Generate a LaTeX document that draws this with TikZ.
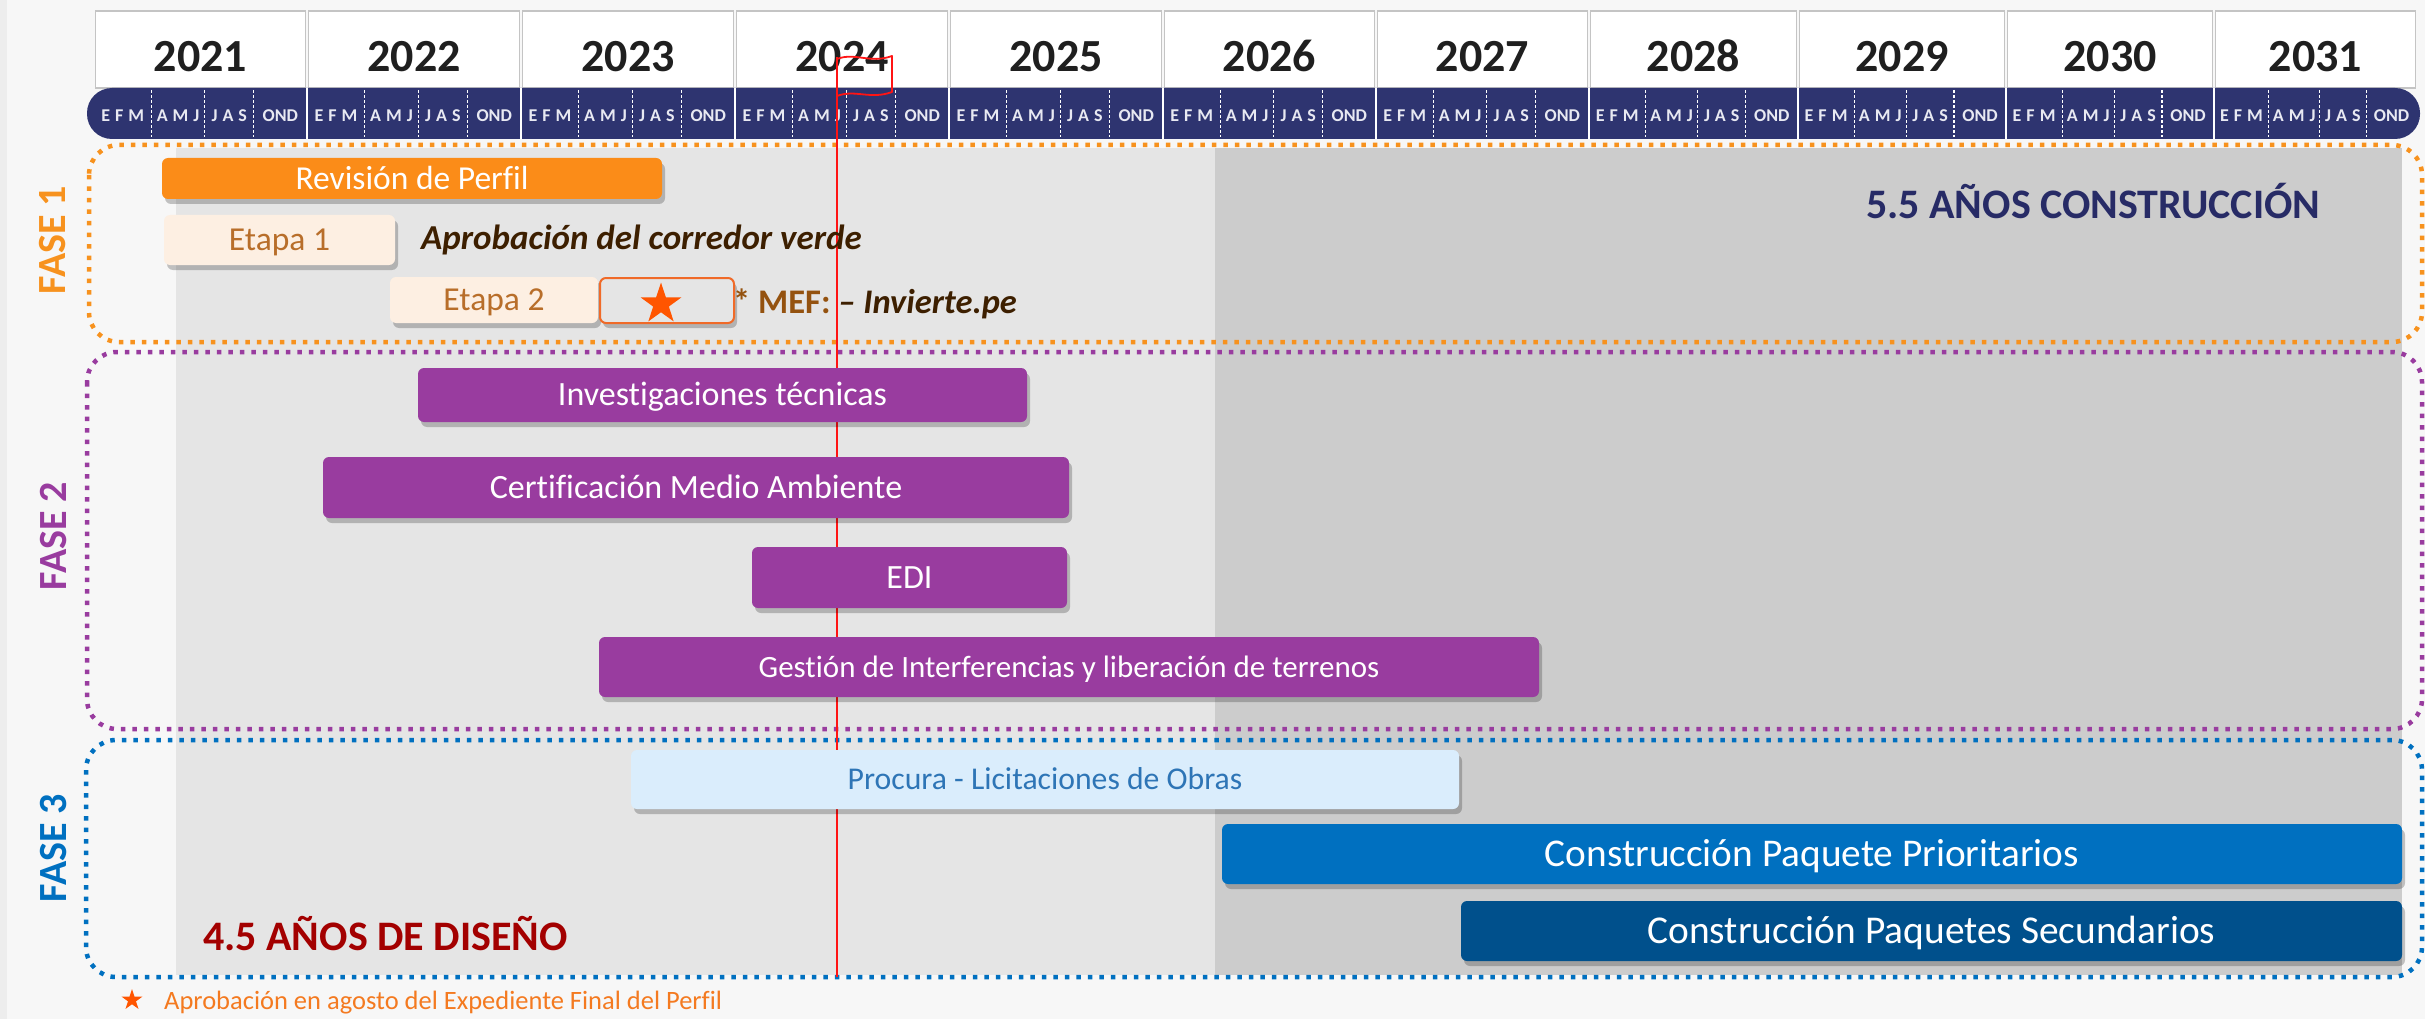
\documentclass[tikz,border=0pt]{standalone}
\usepackage{fontspec}
\setmainfont{Carlito}[Ligatures=NoCommon]
\usetikzlibrary{shapes.geometric,shadows}
\newcommand{\myfs}[1]{\fontsize{#1}{#1}\selectfont}
\definecolor{bg}{HTML}{F7F7F7}
\definecolor{stripc}{HTML}{EDEDED}
\definecolor{lgray}{HTML}{E5E5E5}
\definecolor{dgray}{HTML}{CCCCCC}
\definecolor{navy}{HTML}{2E3470}
\definecolor{boxgray}{HTML}{C4C4C4}
\definecolor{orng}{HTML}{F7921E}
\definecolor{barorng}{HTML}{FB8C18}
\definecolor{peach}{HTML}{FDEFE2}
\definecolor{etapatxt}{HTML}{B86E2A}
\definecolor{starc}{HTML}{FF5500}
\definecolor{starbox}{HTML}{F06A28}
\definecolor{brownd}{HTML}{3D1F00}
\definecolor{brownm}{HTML}{94520F}
\definecolor{purp}{HTML}{993C9F}
\definecolor{blu}{HTML}{0070C0}
\definecolor{lblue}{HTML}{DAEDFC}
\definecolor{bluetxt}{HTML}{2E75B6}
\definecolor{dblue}{HTML}{00508C}
\definecolor{navytxt}{HTML}{272B66}
\definecolor{dred}{HTML}{A30000}
\definecolor{foot}{HTML}{F47A20}
\definecolor{redline}{HTML}{FF1414}
\definecolor{monthc}{HTML}{E8E9F2}
\begin{document}
\begin{tikzpicture}[x=1pt,y=-1pt,
  ft/.style 2 args={font=\myfs{#1}, text height=#2pt, text depth=0pt},
  boldtxt/.style={execute at begin node=\bfseries},
  ganttbar/.style={rounded corners=6pt, inner sep=0pt, draw=none,
    drop shadow={opacity=0.22, fill=black, shadow xshift=3pt, shadow yshift=-5pt}},
  purplebar/.style={ganttbar, fill=purp, text=white},
  fasebox/.style={rounded corners=30pt, line width=4.5pt, dash pattern=on 4.5pt off 7pt},
  faselbl/.style={rotate=90, ft={40}{25.8}, boldtxt, inner sep=0pt},
  yearbox/.style={fill=white, draw=boxgray, line width=1.5pt, inner sep=0pt},
  monthlbl/.style={ft={18}{11.6}, boldtxt, text=monthc, inner sep=0pt},
  starmark/.style={star, star points=5, star point ratio=2.6, fill=starc, draw=none, inner sep=0pt},
  freetxt/.style={anchor=west, inner sep=0pt}
]
\useasboundingbox (0,0) rectangle (2425,1019);
\fill[bg] (0,0) rectangle (2425,1019);
\fill[stripc] (0,0) rectangle (7,1019);
% shaded time areas
\fill[lgray] (176,148) rectangle (1215,975);
\fill[dgray] (1215,148) rectangle (2402,975);
% phase frames
\draw[fasebox, draw=orng] (89,145) rectangle (2422,342);
\draw[fasebox, draw=purp] (87,352) rectangle (2422,729);
\draw[fasebox, draw=blu] (86,740) rectangle (2422,977);
% year header
\foreach \yr/\a/\b in {2021/94/307,2022/307/521,2023/521/735,2024/735/949,2025/949/1163,2026/1163/1376,2027/1376/1589,2028/1589/1798,2029/1798/2006,2030/2006/2214,2031/2214/2417}{
  \pgfmathsetmacro\w{\b-\a-3}
  \pgfmathsetmacro\c{(\a+\b)/2}
  \node[yearbox, minimum width=\w pt, minimum height=77pt] (y\yr) at (\c,49.5) {};
  \node[ft={46}{29}, boldtxt, text=black!88, inner sep=0pt] (t\yr) at (\c,57.5) {\yr};
}
\node[fill=navy, rounded corners=25pt, minimum width=2333pt, minimum height=51pt, inner sep=0pt] (mbar) at (1253.5,113.5) {};
\foreach \x in {307,521,735,949,1163,1376,1589,1798,2006,2214}{
  \draw[white, line width=1.5pt] (\x,88) -- (\x,139);
}
\foreach \yr/\a/\b in {2021/94/307,2022/307/521,2023/521/735,2024/735/949,2025/949/1163,2026/1163/1376,2027/1376/1589,2028/1589/1798,2029/1798/2006,2030/2006/2214,2031/2214/2417}{
  \pgfmathsetmacro\yw{\b-\a}
  \foreach \f in {0.27,0.52,0.75}{
    \pgfmathsetmacro\xx{\a+\f*\yw}
    \draw[white, line width=1.2pt, dash pattern=on 3pt off 2pt] (\xx,90) -- (\xx,137);
  }
  \foreach \q/\f/\lab in {0/0.135/E\kern5pt F\kern5pt M,1/0.395/A\kern5pt M\kern5pt J,2/0.635/J\kern5pt A\kern5pt S,3/0.875/OND}{
    \pgfmathsetmacro\xc{\a+\f*\yw}
    \node[monthlbl] (m\yr\q) at (\xc,116) {\lab};
  }
}
% today line and flag
\coordinate (rtop) at (837,57);
\coordinate (rbot) at (837,977);
\draw[redline, line width=1.6pt] (rtop) -- (rbot);
\draw[redline, line width=1.8pt, line join=round] (837,59) .. controls (855,52) and (870,64) .. (892,56) -- (892,92) .. controls (870,100) and (855,89) .. (837,96);
% FASE 1
\node[ganttbar, fill=barorng, text=white, ft={33.5}{21.6}, minimum width=500pt, minimum height=41pt] (revision) at (412,178.5) {Revisión de Perfil};
\node[ganttbar, fill=peach, text=etapatxt, ft={33.5}{21.6}, minimum width=231pt, minimum height=50pt] (etapa1) at (279.5,240) {Etapa 1};
\node[ganttbar, fill=peach, text=etapatxt, ft={33.5}{21.6}, minimum width=208pt, minimum height=46pt] (etapa2) at (494,300) {Etapa 2};
\node[ganttbar, fill=lgray, draw=starbox, line width=2pt, minimum width=134pt, minimum height=45pt] (starbox) at (667,300.5) {};
\node[starmark, minimum size=43pt] (star) at (661,304) {};
\node[freetxt, ft={35}{22.5}, text=brownd, execute at begin node=\bfseries\itshape] (aprob) at (421,238) {Aprobación del corredor verde};
\node[freetxt, ft={34.5}{22.2}, text=brownd, boldtxt] (mef) at (733,302) {\textcolor{brownm}{* MEF:} \textit{– Invierte.pe}};
\node[freetxt, ft={42}{27}, text=navytxt, boldtxt] (constr) at (1866,205) {5.5 AÑOS CONSTRUCCIÓN};
% FASE 2
\node[purplebar, ft={34}{21.9}, minimum width=609pt, minimum height=54pt] (invest) at (722.5,395) {Investigaciones técnicas};
\node[purplebar, ft={34}{21.9}, minimum width=746pt, minimum height=61pt] (cert) at (696,487.5) {Certificación Medio Ambiente};
\node[purplebar, ft={34}{21.9}, minimum width=315pt, minimum height=61pt] (edi) at (909.5,577.5) {EDI};
\node[purplebar, ft={31}{20}, minimum width=940pt, minimum height=60pt] (gestion) at (1069,667) {Gestión de Interferencias y liberación de terrenos};
% FASE 3
\node[ganttbar, fill=lblue, text=bluetxt, ft={31.7}{20.4}, minimum width=828pt, minimum height=59pt] (procura) at (1045,779.5) {Procura - Licitaciones de Obras};
\node[ganttbar, fill=blu, text=white, ft={39.3}{25.3}, minimum width=1180pt, minimum height=60pt] (prior) at (1812,854) {Construcción Paquete Prioritarios};
\node[ganttbar, fill=dblue, text=white, ft={39.4}{25.4}, minimum width=941pt, minimum height=60pt] (secund) at (1931.5,931) {Construcción Paquetes Secundarios};
\node[freetxt, ft={42}{27}, text=dred, boldtxt] (diseno) at (203,937) {4.5 AÑOS DE DISEÑO};
% phase labels
\node[faselbl, text=orng] (f1) at (53,240) {FASE 1};
\node[faselbl, text=purp] (f2) at (54,536) {FASE 2};
\node[faselbl, text=blu] (f3) at (54,848) {FASE 3};
% footnote
\node[starmark, minimum size=22pt] (fstar) at (132,1000) {};
\node[freetxt, ft={26.5}{17}, text=foot] (fnote) at (164,1001) {Aprobación en agosto del Expediente Final del Perfil};
\end{tikzpicture}
\end{document}
